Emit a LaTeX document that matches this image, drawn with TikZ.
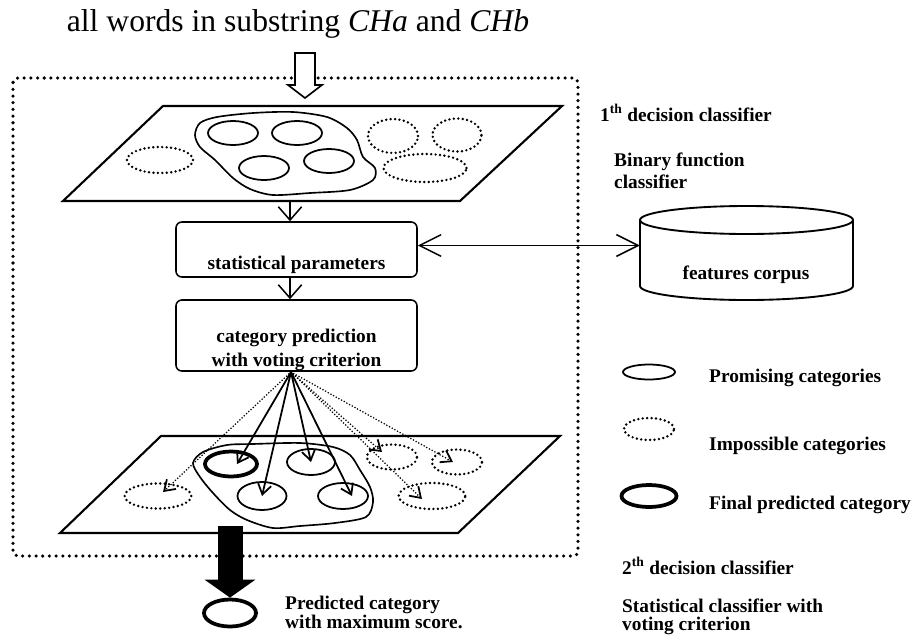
\documentclass[tikz,border=0pt]{standalone}
\usepackage{fontspec}
\setmainfont{Liberation Serif}
\usetikzlibrary{arrows.meta, positioning, shapes.geometric}

\tikzset{
  lbl/.style={font=\fontsize{16.5}{20}\selectfont\bfseries, inner sep=0pt, align=left},
  box/.style={draw, rounded corners=5pt, line width=1.3pt, minimum width=7.23cm},
  plane/.style={line width=1.8pt, line join=miter},
  cat/.style={ellipse, draw, line width=1.5pt, inner sep=0pt,
              minimum width=1.5cm, minimum height=0.72cm},
  nocat/.style={ellipse, draw, line width=2.3pt, dash pattern=on 0pt off 3.8pt,
                line cap=round, inner sep=0pt, minimum width=1.5cm, minimum height=0.75cm},
  finalcat/.style={cat, line width=3.2pt},
  blob/.style={line width=1.4pt},
  dotbox/.style={line width=3pt, dash pattern=on 0pt off 5.7pt, line cap=round},
  arr/.style={-{Straight Barb[length=4mm, width=7mm]}, line width=1.3pt},
  vote/.style={-{Straight Barb[length=3mm, width=4mm]}, line width=1.5pt},
  novote/.style={vote, line width=1.5pt, dash pattern=on 0pt off 2.6pt, line cap=round},
  bigarr/.style={-{Triangle[length=0.54cm, width=1.5cm]}, line width=0.75cm}
}

\begin{document}
\begin{tikzpicture}[x=0.03cm, y=-0.03cm]
\useasboundingbox (0,0) rectangle (921,640);

% title and input
\node[font=\fontsize{27}{30}\selectfont] (title) at (298,24)
  {all words in substring \textit{CHa} and \textit{CHb}};

% first decision classifier
\draw[dotbox, rounded corners=4pt] (13,78) rectangle (578,556);
\draw[line width=1.4pt, fill=white] (295,53) -- (315,53) -- (315,85) -- (322,85)
  -- (305,98) -- (288,85) -- (295,85) -- cycle;

\draw[plane] (163,106) -- (562,106) -- (460,201) -- (63,201) -- cycle;
\draw[blob] plot[smooth cycle] coordinates {(195,135) (200,123) (217,117) (253,113)
  (293,112) (327,117) (347,128) (357,140) (363,157) (375,168) (373,180) (350,190)
  (310,193) (273,195) (250,189) (233,178) (215,160) (200,147)};
\node[cat] (a1) at (233,133) {};
\node[cat] (a2) at (297,133) {};
\node[cat] (a3) at (264,168) {};
\node[cat] (a4) at (329,161) {};
\node[nocat, minimum width=1.98cm, minimum height=0.78cm] (t1) at (160,160) {};
\node[nocat, minimum height=1.02cm] (t2) at (393,136) {};
\node[nocat, minimum width=1.47cm, minimum height=0.99cm] (t3) at (457,135) {};
\node[nocat, minimum width=2.49cm, minimum height=0.84cm] (t4) at (425,168) {};

\node[box, minimum height=1.65cm] (params) at (296.5,249.5) {};
\node[lbl, above=3pt of params.south] (paramstxt) {statistical parameters};
\node[box, minimum height=2.13cm] (vote) at (296.5,335.5) {};
\node[lbl, align=center, above=1pt of vote.south, font=\fontsize{16.5}{20.5}\selectfont\bfseries]
  (votetxt) {category prediction\\with voting criterion};

\coordinate (planeout) at (290,201);
\draw[arr] (planeout) -- (planeout |- params.north);
\draw[arr] (params.south -| planeout) -- (vote.north -| planeout);

% features corpus
\node[minimum width=6.39cm, minimum height=2.82cm] (corpus) at (746.5,253) {};
\draw[line width=1.6pt] (640,220) -- (640,286) arc[start angle=180, end angle=0,
  x radius=106.5, y radius=14] -- (853,220);
\draw[line width=1.6pt] (746.5,220) ellipse [x radius=106.5, y radius=14];
\node[lbl] (corpustxt) at (746,275) {features corpus};
\draw[{Straight Barb[length=6.5mm, width=6.5mm]}-{Straight Barb[length=6.5mm, width=6.5mm]},
  line width=1.3pt] ([yshift=0.12cm]params.east) -- ([yshift=0.12cm]params.east -| corpus.west);

\node[lbl, anchor=west] (first) at (600,113) {1\textsuperscript{th} decision classifier};
\node[lbl, anchor=west, font=\fontsize{16.5}{19}\selectfont\bfseries] (binary) at (614,171)
  {Binary function\\classifier};

% second decision classifier
\draw[plane] (161,436) -- (560,436) -- (458,533) -- (60,533) -- cycle;
\draw[blob] plot[smooth cycle] coordinates {(193,463) (203,452) (227,445) (253,444)
  (300,443) (333,447) (350,455) (360,470) (370,487) (373,502) (366,517) (335,523)
  (300,526) (273,528) (247,520) (230,510) (213,493) (200,477)};
\node[finalcat, minimum width=1.56cm, minimum height=0.75cm] (final) at (231,464) {};
\node[cat, minimum width=1.44cm, minimum height=0.78cm] (b2) at (311,462) {};
\node[cat, minimum width=1.47cm, minimum height=0.84cm] (b3) at (262,496) {};
\node[cat, minimum height=0.78cm] (b4) at (343,496) {};
\node[nocat, minimum width=2.0cm] (c1) at (158,496) {};
\node[nocat] (c2) at (392,457) {};
\node[nocat] (c3) at (457,462) {};
\node[nocat, minimum width=2.0cm, minimum height=0.78cm] (c4) at (432,496) {};

\coordinate (fan) at (291,372);
\draw[vote] (fan) -- ([xshift=0.18cm]final.center);
\draw[vote] (fan) -- (b3.center);
\draw[vote] (fan) -- (b2.center);
\draw[vote] (fan) -- ([xshift=0.27cm]b4.center);
\draw[novote] (fan) -- ([xshift=0.15cm, yshift=0.12cm]c1.center);
\draw[novote] (fan) -- ([xshift=-0.3cm, yshift=0.15cm]c2.center);
\draw[novote] (fan) -- ([xshift=-0.12cm]c3.center);
\draw[novote] (fan) -- ([xshift=-0.3cm, yshift=-0.09cm]c4.center);

% result
\node[finalcat, minimum width=1.56cm, minimum height=0.81cm] (result) at (230,613) {};
\coordinate (planeout2) at (230,526);
\draw[bigarr] (planeout2) -- (result.north);
\node[lbl, anchor=west, font=\fontsize{16.5}{15}\selectfont\bfseries] (resulttxt) at (285,612)
  {Predicted category\\with maximum score.};

% legend
\node[cat, minimum width=1.56cm, minimum height=0.45cm] (lg1) at (649,372) {};
\node[nocat, minimum width=1.5cm, minimum height=0.66cm] (lg2) at (649,429) {};
\node[finalcat, minimum width=1.65cm, minimum height=0.66cm] (lg3) at (649,496) {};
\node[lbl, anchor=west] (lg1txt) at (709,378) {Promising categories};
\node[lbl, anchor=west] (lg2txt) at (709,446) {Impossible categories};
\node[lbl, anchor=west] (lg3txt) at (709,505) {Final predicted category};
\node[lbl, anchor=west] (second) at (622,566) {2\textsuperscript{th} decision classifier};
\node[lbl, anchor=west, font=\fontsize{16.5}{15}\selectfont\bfseries] (stat) at (622,617)
  {Statistical classifier with\\voting criterion};
\end{tikzpicture}
\end{document}
